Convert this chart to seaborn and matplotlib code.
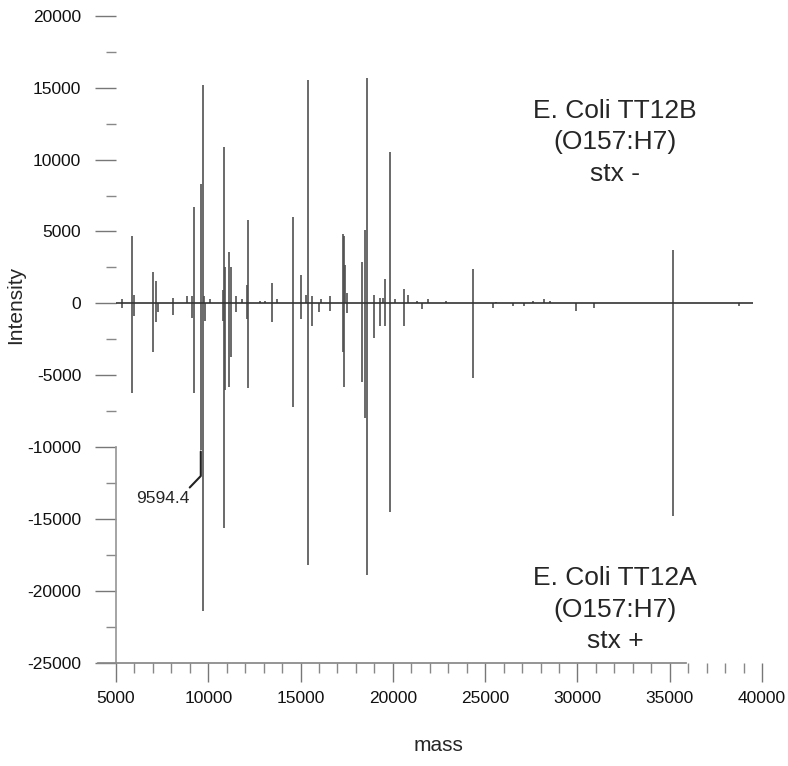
import matplotlib
matplotlib.use("Agg")
import matplotlib.pyplot as plt
from matplotlib.ticker import MultipleLocator
import seaborn as sns

# upper spectrum: E. Coli TT12B (stx -)
upper_mass = [5330, 5883, 5950, 7004, 7183, 8105, 8830, 9100, 9240, 9600,
              9730, 9780, 10100, 10780, 10870, 10900, 11140, 11250, 11480, 11850,
              12100, 12170, 12800, 13100, 13470, 13700, 14600, 15000, 15300, 15420,
              15600, 16100, 16600, 17280, 17350, 17400, 17500, 18310, 18510, 18580,
              18990, 19300, 19450, 19590, 19860, 20100, 20620, 20830, 21300, 21900,
              22900, 24320, 25600, 27600, 28200, 28500, 35160]
upper_int = [300, 4700, 600, 2150, 1550, 400, 500, 500, 6700, 8300,
             15200, 500, 300, 900, 10900, 2500, 3600, 2500, 500, 300,
             1250, 5800, 200, 200, 1400, 300, 6000, 2000, 600, 15500,
             500, 300, 500, 4800, 4650, 2700, 700, 2900, 5100, 15700,
             600, 350, 400, 1700, 10500, 300, 1000, 600, 200, 300,
             150, 2400, 100, 200, 300, 150, 3700]

# lower spectrum: E. Coli TT12A (stx +), drawn mirrored
lower_mass = [5330, 5883, 5950, 7004, 7183, 7300, 8105, 9100, 9240, 9594.4,
              9730, 9800, 10780, 10870, 10900, 11140, 11250, 11480, 12100, 12170,
              13470, 14600, 15000, 15420, 15600, 16000, 16600, 17280, 17350, 17500,
              18310, 18510, 18580, 18990, 19300, 19590, 19860, 20620, 21600, 24320,
              25400, 26500, 27100, 29900, 30900, 35160, 38760]
lower_int = [-300, -6200, -900, -3400, -1300, -600, -800, -1000, -6200, -10200,
             -21400, -1200, -1250, -15600, -6000, -5800, -3700, -600, -1100, -5900,
             -1300, -7200, -1100, -18200, -1600, -600, -500, -3400, -5800, -700,
             -5500, -8000, -18900, -2400, -1600, -1600, -14500, -1600, -400, -5200,
             -300, -200, -150, -550, -300, -14800, -200]

x_ticks = list(range(5000, 40001, 5000))
y_ticks = list(range(-25000, 20001, 5000))

label_peak = 9594.4

sns.set_theme(style="ticks")
plt.rcParams["font.family"] = ["Liberation Sans", "DejaVu Sans"]
plt.rcParams["axes.unicode_minus"] = False

fig = plt.figure(figsize=(7.88, 7.66), dpi=100)
ax = fig.add_axes([0.1472, 0.1345, 0.8198, 0.845])

ax.vlines(upper_mass, 0, upper_int, color="#505050", lw=1.2)
ax.vlines(lower_mass, 0, lower_int, color="#505050", lw=1.2)
ax.hlines(0, 5000, 39500, color="#333333", lw=1.2)

ax.set_xlim(5000, 40000)
ax.set_ylim(-25000, 20000)
ax.set_xticks(x_ticks)
ax.set_yticks(y_ticks)
ax.xaxis.set_minor_locator(MultipleLocator(1000))
ax.yaxis.set_minor_locator(MultipleLocator(2500))
ax.tick_params(which="major", length=15, width=1, color="#777777",
               labelsize=12.5, labelcolor="#111111")
ax.tick_params(axis="x", which="major", length=14, pad=6)
ax.tick_params(axis="y", which="major", pad=10)
ax.tick_params(which="minor", length=7, width=1, color="#888888")

sns.despine(ax=ax)
ax.spines["left"].set_bounds(-25000, -10000)
ax.spines["left"].set_color("#999999")
ax.spines["bottom"].set_bounds(4000, 35900)
ax.spines["bottom"].set_color("#888888")

ax.set_xlabel("mass", fontsize=15, labelpad=22)
ax.set_ylabel("Intensity", fontsize=15)
ax.yaxis.set_label_coords(-0.141, 0.553)

# leader for the labelled peak
ax.plot([label_peak, label_peak, label_peak - 600], [-10300, -12000, -12800],
        color="#222222", lw=1.5)
ax.text(7550, -13600, "9594.4", fontsize=12.5, ha="center", va="center")

ax.text(32030, 11200, "E. Coli TT12B\n(O157:H7)\nstx -", fontsize=19,
        ha="center", va="center", linespacing=1.4)
ax.text(32030, -21300, "E. Coli TT12A\n(O157:H7)\nstx +", fontsize=19,
        ha="center", va="center", linespacing=1.4)

fig.savefig("out.png", dpi=100)
